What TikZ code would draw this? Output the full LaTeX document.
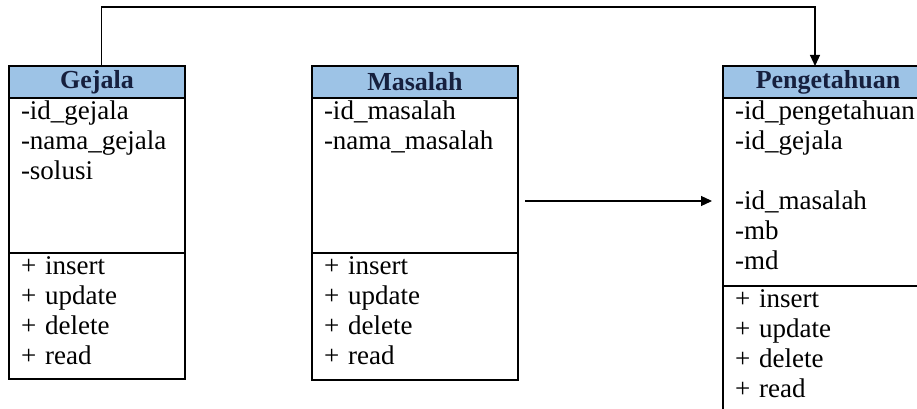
\documentclass[tikz,border=0pt]{standalone}
\usepackage{fontspec}
\setmainfont{Liberation Serif}
\usetikzlibrary{arrows.meta,positioning}
\definecolor{headblue}{RGB}{157,195,230}
\definecolor{headink}{RGB}{22,32,62}

\begin{document}
\begin{tikzpicture}[x=1pt,y=1pt,
    classhead/.style={draw, line width=1.2pt, fill=headblue, text=headink,
        font=\fontsize{26}{30}\selectfont\bfseries, minimum height=32pt,
        inner sep=0pt, outer sep=0pt, anchor=north},
    classpart/.style={draw, line width=1.2pt, align=left,
        font=\fontsize{27}{30}\selectfont, inner xsep=12pt, inner ysep=0pt,
        outer sep=0pt, text height=21pt, below=0pt of #1},
    link/.style={line width=1.2pt, -{Triangle[length=11pt,width=10pt]}}]
    \useasboundingbox (0,0) rectangle (917,-409);
    \clip (0,0) rectangle (917,-409);
    % Gejala
    \node[classhead, minimum width=176pt] (gejala) at (97,-66) {Gejala};
    \node[classpart=gejala, text width=152pt, text depth=134pt] (gejala attr)
        {-id\_gejala\\-nama\_gejala\\-solusi};
    \node[classpart=gejala attr, text width=152pt, text depth=105pt] (gejala ops)
        {+ insert\\+ update\\+ delete\\+ read};
    % Masalah
    \node[classhead, minimum width=206pt] (masalah) at (415,-66) {Masalah};
    \node[classpart=masalah, text width=182pt, text depth=134pt] (masalah attr)
        {-id\_masalah\\-nama\_masalah};
    \node[classpart=masalah attr, text width=182pt, text depth=106pt] (masalah ops)
        {+ insert\\+ update\\+ delete\\+ read};
    % Pengetahuan (runs past the right and bottom edges)
    \node[classhead, minimum width=210pt] (peng) at (828,-66) {Pengetahuan};
    \node[classpart=peng, text width=186pt, text depth=167pt] (peng attr)
        {-id\_pengetahuan\\-id\_gejala\\\mbox{}\\-id\_masalah\\-mb\\-md};
    \node[classpart=peng attr, text width=186pt, text depth=129pt] (peng ops)
        {+ insert\\+ update\\+ delete\\+ read};
    % relations
    \draw[link] ([xshift=4.5pt]gejala.north) -- ++(0,59) -| ([xshift=-13pt]peng.north);
    \coordinate (src) at (525,-201);
    \coordinate (dst) at (712,-201);
    \draw[link] (src) -- (dst);
\end{tikzpicture}
\end{document}
